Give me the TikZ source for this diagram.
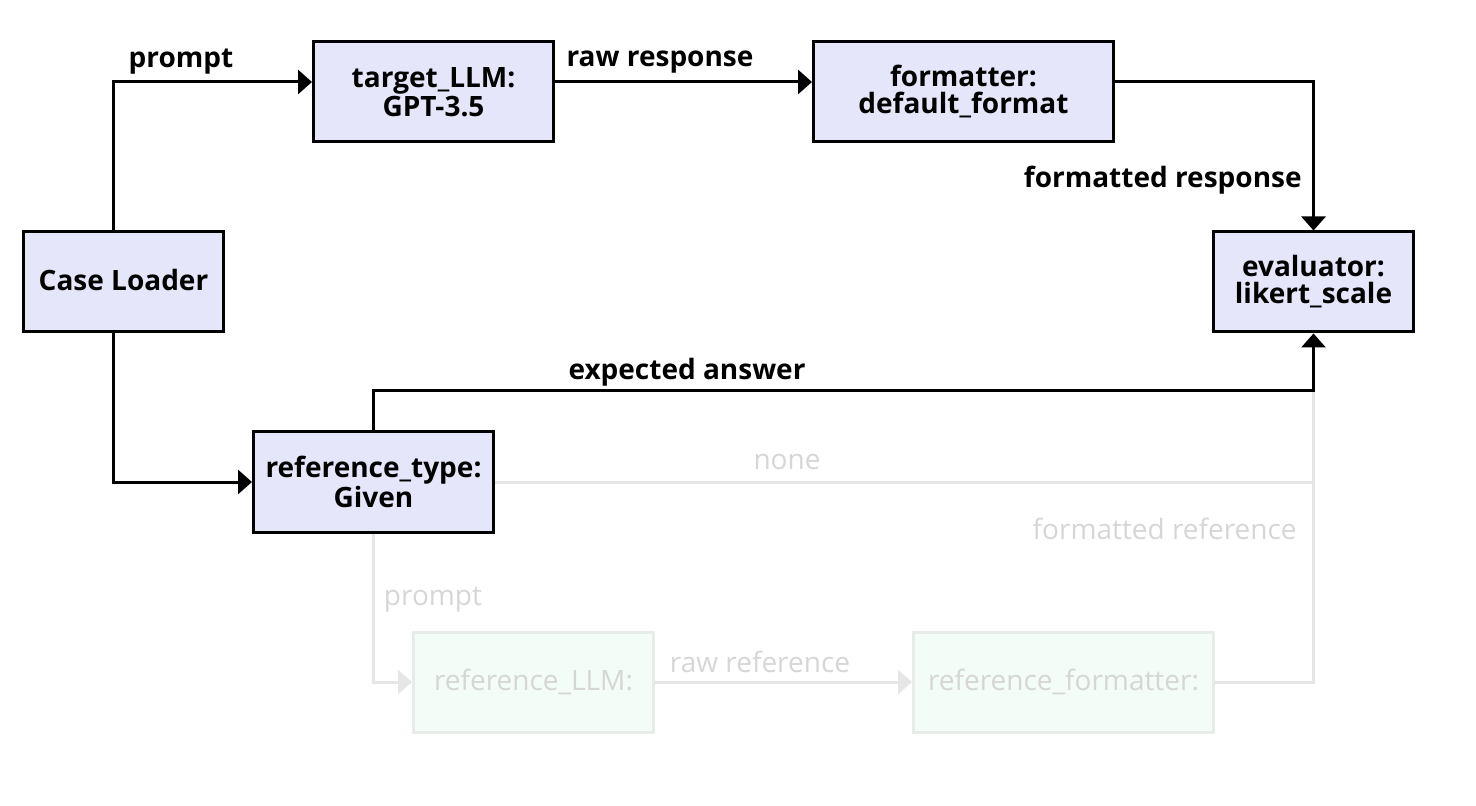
\documentclass[tikz,border=0pt]{standalone}
\usepackage{fontspec}
\setmainfont{Open Sans}
\usetikzlibrary{arrows.meta,calc}
\definecolor{boxfill}{HTML}{E6E6FA}
\definecolor{fadeline}{HTML}{E6E6E6}
\definecolor{fadetext}{HTML}{D6D6D6}
\definecolor{fadefill}{HTML}{F3FCF6}
\definecolor{fadedraw}{HTML}{E8ECE9}
\begin{document}
\begin{tikzpicture}[x=0.5pt,y=-0.5pt,
  box/.style={draw=black,line width=1.5pt,fill=boxfill,minimum height=50pt,align=center,
    font=\fontsize{14}{13.5}\selectfont\bfseries,inner sep=2pt},
  fbox/.style={draw=fadedraw,line width=1.5pt,fill=fadefill,minimum height=50pt,align=center,
    font=\fontsize{14}{13.5}\selectfont,text=fadetext,inner sep=2pt},
  conn/.style={line width=1.5pt,draw=black},
  fconn/.style={line width=1.5pt,draw=fadeline},
  tip/.style={-{Triangle[length=7pt 0,width=12pt 0]}},
  lbl/.style={font=\fontsize{14}{14}\selectfont\bfseries,inner sep=0pt},
  flbl/.style={font=\fontsize{14}{14}\selectfont,text=fadetext,inner sep=0pt}]
\useasboundingbox (0,0) rectangle (1476,806);
\node[box,minimum width=100pt] (cl) at (123.5,282) {\raisebox{2.5pt}{Case Loader}};
\node[box,minimum width=120pt] (tl) at (433.5,92) {target\_LLM:\\GPT-3.5};
\node[box,minimum width=150pt] (fm) at (963.5,92) {formatter:\\default\_format};
\node[box,minimum width=100pt] (ev) at (1313.5,282) {evaluator:\\likert\_scale};
\node[box,minimum width=120pt] (rt) at (373.5,482) {reference\_type:\\Given};
\node[fbox,minimum width=120pt] (rl) at (533.5,682) {\raisebox{2.5pt}{reference\_LLM:}};
\node[fbox,minimum width=150pt] (rf) at (1063.5,682) {\raisebox{2.5pt}{reference\_formatter:}};
\coordinate (j) at ($(rt.north -| ev.south)+(0,-40)$);
% faded connectors
\draw[fconn] (rt.east) -- (rt.east -| ev.south);
\draw[fconn,tip] (rt.south) |- (rl.west);
\draw[fconn,tip] (rl.east) -- (rf.west);
\draw[fconn] (rf.east) -| (j);
% active connectors
\draw[conn,tip] ([xshift=-5.25pt]cl.north) |- ([yshift=5pt]tl.west);
\draw[conn,tip] ([yshift=5pt]tl.east) -- ([yshift=5pt]fm.west);
\draw[conn,tip] ([yshift=5pt]fm.east) -| (ev.north);
\draw[conn,tip] ([xshift=-5.25pt]cl.south) |- (rt.west);
\draw[conn,tip] (rt.north) |- (j) -- (ev.south);
% labels
\node[lbl] (l1) at (181,62) {prompt};
\node[lbl] (l2) at (660,62) {raw response};
\node[lbl,anchor=east] (l3) at (1302,180) {formatted response};
\node[lbl] (l4) at (687,372) {expected answer};
\node[flbl] (l5) at (787,462) {none};
\node[flbl,anchor=east] (l6) at (1297,529) {formatted reference};
\node[flbl] (l7) at (433,600) {prompt};
\node[flbl] (l8) at (760,662) {raw reference};
\end{tikzpicture}
\end{document}
